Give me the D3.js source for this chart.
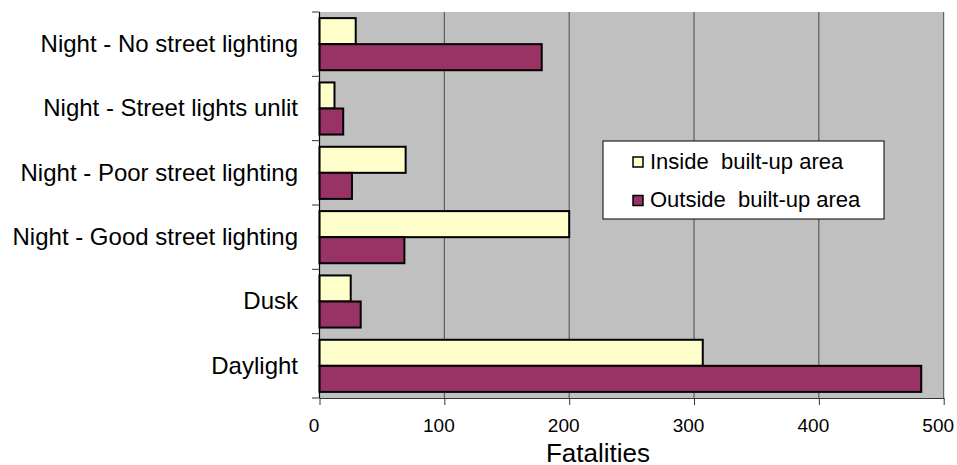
<!DOCTYPE html>
<html>
<head>
    <title>Fatalities by lighting condition</title>
    <script src="https://d3js.org/d3.v7.min.js"></script>
    <style>
        body { margin: 0; background: #fff; }
        text { font-family: "Liberation Sans", Arial, sans-serif; fill: #000; }
    </style>
</head>
<body>
    <script>
        // data
        const categories = ["Night - No street lighting", "Night - Street lights unlit",
            "Night - Poor street lighting", "Night - Good street lighting", "Dusk", "Daylight"];
        const seriesNames = ["Inside  built-up area", "Outside  built-up area"];
        const insideValues = [29, 12, 69, 200, 25, 307];
        const outsideValues = [178, 19, 26, 68, 33, 482];
        const xTicks = [0, 100, 200, 300, 400, 500];
        const colors = ["#FFFFCC", "#993366"];

        const width = 957, height = 465;
        const plot = {left: 319.5, right: 943.7, top: 12, bottom: 398};
        const font = "'Liberation Sans', Arial, sans-serif";

        const svg = d3.select("body").append("svg")
            .attr("width", width)
            .attr("height", height);

        const x = d3.scaleLinear().domain([0, 500]).range([plot.left, plot.right]);
        const y0 = d3.scaleBand().domain(categories)
            .range([plot.top, plot.bottom])
            .paddingInner(0.19).paddingOuter(0.095);
        const y1 = d3.scaleBand().domain(seriesNames).range([0, y0.bandwidth()]);

        // plot background
        svg.append("rect")
            .attr("x", plot.left).attr("y", plot.top)
            .attr("width", plot.right - plot.left)
            .attr("height", plot.bottom - plot.top)
            .attr("fill", "#C0C0C0");

        // vertical gridlines
        svg.append("g").selectAll("line")
            .data(xTicks.slice(1))
            .join("line")
            .attr("x1", d => x(d)).attr("x2", d => x(d))
            .attr("y1", plot.top).attr("y2", plot.bottom)
            .attr("stroke", "#4a4a4a").attr("stroke-width", 1);

        // bars
        const rows = categories.map((c, i) => ({cat: c, vals: [insideValues[i], outsideValues[i]]}));
        const groups = svg.append("g").selectAll("g")
            .data(rows)
            .join("g")
            .attr("transform", d => "translate(0," + y0(d.cat) + ")");

        groups.selectAll("rect")
            .data(d => d.vals.map((v, j) => ({name: seriesNames[j], value: v, j: j})))
            .join("rect")
            .attr("x", x(0))
            .attr("y", d => y1(d.name))
            .attr("width", d => x(d.value) - x(0))
            .attr("height", y1.bandwidth())
            .attr("fill", d => colors[d.j])
            .attr("stroke", "#000")
            .attr("stroke-width", 2);

        // x axis
        const xAxis = svg.append("g")
            .attr("transform", "translate(0," + plot.bottom + ")")
            .call(d3.axisBottom(x).tickValues(xTicks).tickSize(7).tickSizeOuter(0));
        xAxis.select(".domain").attr("stroke", "#333");
        xAxis.selectAll(".tick line").attr("stroke", "#333");
        xAxis.selectAll(".tick text")
            .attr("x", -6)
            .attr("y", 34)
            .attr("dy", 0)
            .style("font-size", "19px")
            .style("font-family", font);

        // y axis: labels at band centres, ticks at band boundaries
        svg.append("line")
            .attr("x1", plot.left).attr("x2", plot.left)
            .attr("y1", plot.top).attr("y2", plot.bottom)
            .attr("stroke", "#000").attr("stroke-width", 1.2);

        const step = y0.step();
        const boundaries = d3.range(categories.length + 1).map(i => plot.top + i * step);
        svg.append("g").selectAll("line")
            .data(boundaries)
            .join("line")
            .attr("x1", plot.left - 7.5).attr("x2", plot.left)
            .attr("y1", d => d).attr("y2", d => d)
            .attr("stroke", "#333");

        svg.append("g").selectAll("text")
            .data(categories)
            .join("text")
            .attr("x", 298)
            .attr("y", d => y0(d) + y0.bandwidth() / 2)
            .attr("dy", "0.32em")
            .attr("text-anchor", "end")
            .style("font-size", "24px")
            .text(d => d);

        // axis title
        svg.append("text")
            .attr("x", 598).attr("y", 462)
            .attr("text-anchor", "middle")
            .style("font-size", "26px")
            .text("Fatalities");

        // legend
        const legend = svg.append("g").attr("transform", "translate(603,141)");
        legend.append("rect")
            .attr("width", 281).attr("height", 78)
            .attr("fill", "#fff").attr("stroke", "#000").attr("stroke-width", 1);

        const items = legend.selectAll("g.item")
            .data(seriesNames)
            .join("g")
            .attr("class", "item")
            .attr("transform", (d, i) => "translate(30," + (16 + i * 38.5) + ")");

        items.append("rect")
            .attr("width", 10).attr("height", 10)
            .attr("fill", (d, i) => colors[i])
            .attr("stroke", "#000").attr("stroke-width", 1.5);

        items.append("text")
            .attr("x", 17).attr("y", 11.5)
            .style("font-size", "22px")
            .style("white-space", "pre")
            .text(d => d);
    </script>
</body>
</html>
